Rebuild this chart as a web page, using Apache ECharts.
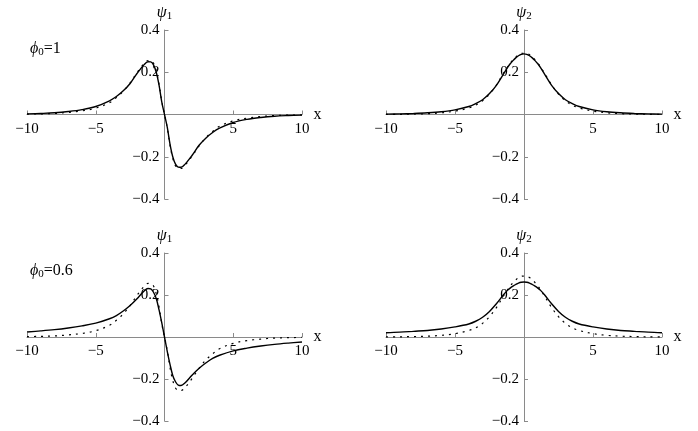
<!DOCTYPE html>
<html>
<head>
<meta charset="utf-8">
<script src="https://cdn.jsdelivr.net/npm/echarts@6/dist/echarts.min.js"></script>
<style>
  html, body { margin: 0; padding: 0; background: #fff; }
  #chart { width: 698px; height: 431px; }
</style>
</head>
<body>
<div id="chart"></div>
<script>
// sample positions along x, shared by every curve
const xs = [-10, -9, -8, -7, -6, -5, -4, -3.5, -3, -2.5, -2, -1.5, -1.2, -1, -0.8, -0.6, -0.4, -0.2,
  0, 0.2, 0.4, 0.6, 0.8, 1, 1.2, 1.5, 2, 2.5, 3, 3.5, 4, 5, 6, 7, 8, 9, 10]

// psi_1, phi_0 = 1 (solid)
const psi1Phi1 = [0.003, 0.005, 0.008, 0.014, 0.023, 0.038, 0.065, 0.085, 0.112, 0.147, 0.194, 0.235, 0.25, 0.249, 0.235, 0.2, 0.14, 0.06,
  0, -0.06, -0.14, -0.2, -0.235, -0.249, -0.25, -0.235, -0.194, -0.147, -0.112, -0.085, -0.065, -0.038, -0.023, -0.014, -0.008, -0.005, -0.003]
// psi_1, phi_0 = 0.6 (solid)
const psi1Phi06 = [0.024, 0.029, 0.035, 0.043, 0.053, 0.066, 0.087, 0.102, 0.124, 0.15, 0.182, 0.218, 0.231, 0.229, 0.213, 0.183, 0.13, 0.068,
  0, -0.068, -0.13, -0.183, -0.213, -0.229, -0.231, -0.218, -0.182, -0.15, -0.124, -0.102, -0.087, -0.066, -0.053, -0.043, -0.035, -0.029, -0.024]
// psi_1 reference (dotted)
const psi1Ref = [0.002, 0.003, 0.005, 0.01, 0.017, 0.03, 0.056, 0.08, 0.11, 0.15, 0.198, 0.24, 0.255, 0.254, 0.243, 0.207, 0.145, 0.063,
  0, -0.063, -0.145, -0.207, -0.243, -0.254, -0.255, -0.24, -0.198, -0.15, -0.11, -0.08, -0.056, -0.03, -0.017, -0.01, -0.005, -0.003, -0.002]

// psi_2, phi_0 = 1 (solid)
const psi2Phi1 = [0.002, 0.003, 0.005, 0.008, 0.013, 0.022, 0.038, 0.052, 0.07, 0.099, 0.138, 0.19, 0.222, 0.24, 0.255, 0.268, 0.278, 0.285,
  0.287, 0.285, 0.278, 0.268, 0.255, 0.24, 0.222, 0.19, 0.138, 0.099, 0.07, 0.052, 0.038, 0.022, 0.013, 0.008, 0.005, 0.003, 0.002]
// psi_2, phi_0 = 0.6 (solid)
const psi2Phi06 = [0.0205, 0.023, 0.027, 0.031, 0.038, 0.048, 0.062, 0.075, 0.094, 0.122, 0.158, 0.2, 0.222, 0.233, 0.242, 0.25, 0.257, 0.261,
  0.262, 0.261, 0.257, 0.25, 0.242, 0.233, 0.222, 0.2, 0.158, 0.122, 0.094, 0.075, 0.062, 0.048, 0.038, 0.031, 0.027, 0.023, 0.0205]
// psi_2 reference (dotted)
const psi2Ref = [0.001, 0.001, 0.002, 0.004, 0.008, 0.016, 0.031, 0.044, 0.065, 0.097, 0.14, 0.194, 0.225, 0.243, 0.259, 0.272, 0.283, 0.289,
  0.29, 0.289, 0.283, 0.272, 0.259, 0.243, 0.225, 0.194, 0.14, 0.097, 0.065, 0.044, 0.031, 0.016, 0.008, 0.004, 0.002, 0.001, 0.001]

const xTicks = [-10, -5, 0, 5, 10]
const yTicks = [-0.4, -0.2, 0, 0.2, 0.4]
const xMin = -10, xMax = 10
const yMin = -0.4, yMax = 0.4
const panelLabels = ['1', '0.6']

const serif = "'Liberation Serif', 'DejaVu Serif', serif"
const pairs = v => xs.map((x, i) => [x, v[i]])
const minus = s => s.replace('-', '\u2212')

// plot box of each panel
const boxes = [
  { left: 27, top: 30, width: 275, height: 169 },
  { left: 386, top: 30, width: 276, height: 169 },
  { left: 27, top: 253, width: 275, height: 168 },
  { left: 386, top: 253, width: 276, height: 168 }
]
const yNames = ['1', '2', '1', '2']
const solidData = [psi1Phi1, psi2Phi1, psi1Phi06, psi2Phi06]
const dotData = [psi1Ref, psi2Ref, psi1Ref, psi2Ref]

// axes cross at the origin: shift them in from the box edges
const xShift = b => -b.height * (0 - yMin) / (yMax - yMin)
const yShift = b => -b.width * (0 - xMin) / (xMax - xMin)

const axisLine = { onZero: false, lineStyle: { color: '#8a8a8a', width: 1 } }
const axisTick = { inside: true, length: 4, lineStyle: { color: '#8a8a8a' } }

const chart = echarts.init(document.getElementById('chart'))

chart.setOption({
  animation: false,
  title: panelLabels.map((p, i) => ({
    text: '{i|\u03d5}{s|0}{n|=' + p + '}',
    left: 25,
    top: i === 0 ? 34 : 256,
    textStyle: {
      fontWeight: 'normal',
      rich: {
        i: { fontFamily: serif, fontStyle: 'italic', fontWeight: 'normal', fontSize: 16, color: '#000' },
        s: { fontFamily: serif, fontWeight: 'normal', fontSize: 11, color: '#000', padding: [8, 0, 0, 0] },
        n: { fontFamily: serif, fontWeight: 'normal', fontSize: 16, color: '#000' }
      }
    }
  })),
  grid: boxes.map(b => ({ ...b, containLabel: false })),
  xAxis: boxes.map((b, i) => ({
    gridIndex: i,
    type: 'value',
    position: 'bottom',
    offset: xShift(b),
    min: xMin,
    max: xMax,
    interval: 5,
    name: 'x',
    nameLocation: 'end',
    nameGap: 11,
    nameTextStyle: { fontFamily: serif, fontSize: 16, color: '#000', padding: [6, 0, 0, 0] },
    axisLine,
    axisTick,
    splitLine: { show: false },
    axisLabel: {
      margin: 7,
      fontFamily: serif,
      fontSize: 15,
      color: '#000',
      formatter: v => (xTicks.includes(v) && v !== 0 ? minus(String(v)) : '')
    }
  })),
  yAxis: boxes.map((b, i) => ({
    gridIndex: i,
    type: 'value',
    position: 'left',
    offset: yShift(b),
    min: yMin,
    max: yMax,
    interval: 0.2,
    name: '{i|\u03c8}{s|' + yNames[i] + '}',
    nameLocation: 'end',
    nameGap: 8,
    nameTextStyle: {
      rich: {
        i: { fontFamily: serif, fontStyle: 'italic', fontSize: 16, color: '#000' },
        s: { fontFamily: serif, fontSize: 11, color: '#000', padding: [7, 0, 0, 0] }
      }
    },
    axisLine,
    axisTick,
    splitLine: { show: false },
    axisLabel: {
      margin: 5,
      fontFamily: serif,
      fontSize: 15,
      color: '#000',
      formatter: v => {
        const t = yTicks.find(k => Math.abs(k - v) < 1e-9)
        return t === undefined || t === 0 ? '' : minus(t.toFixed(1))
      }
    }
  })),
  series: [
    ...solidData.map((d, i) => ({
      type: 'line',
      xAxisIndex: i,
      yAxisIndex: i,
      data: pairs(d),
      showSymbol: false,
      smooth: 0.35,
      lineStyle: { color: '#000', width: 1.4 },
      z: 3
    })),
    ...dotData.map((d, i) => ({
      type: 'line',
      xAxisIndex: i,
      yAxisIndex: i,
      data: pairs(d),
      showSymbol: false,
      smooth: 0.35,
      lineStyle: { color: '#000', width: 1.2, type: [2, 5] },
      z: 2
    }))
  ]
})
</script>
</body>
</html>
